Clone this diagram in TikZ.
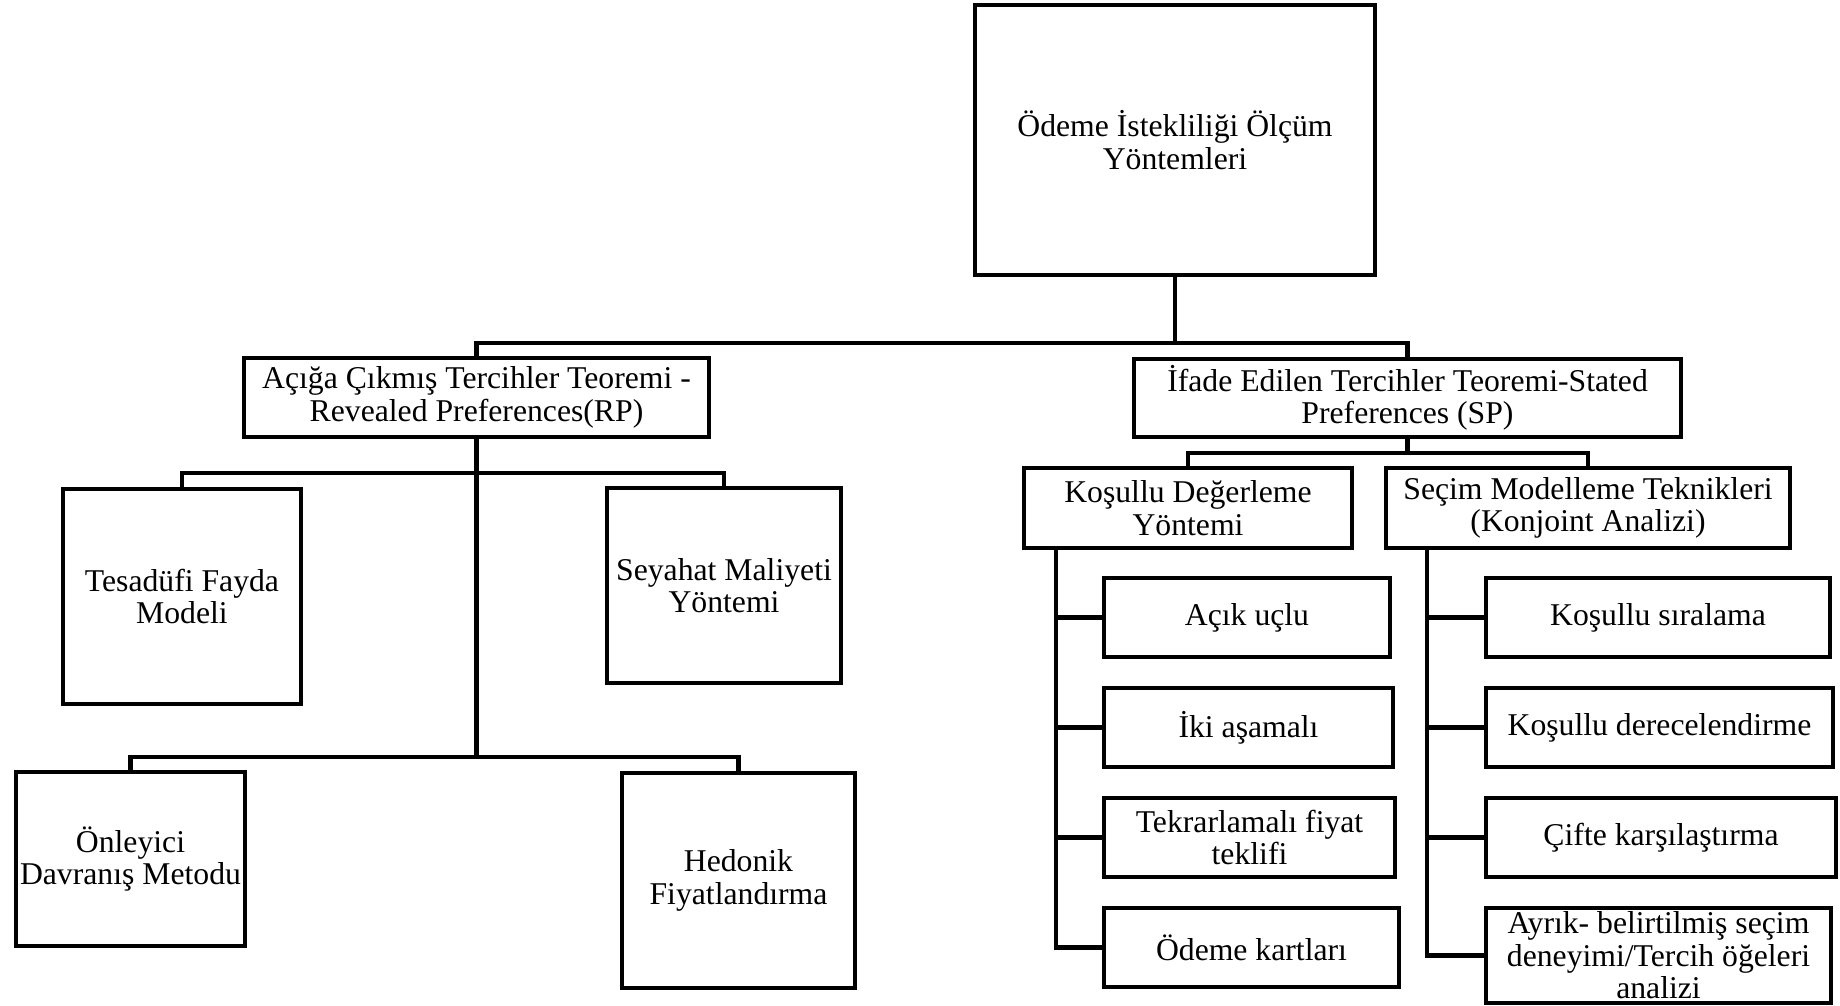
\documentclass[tikz,border=0pt]{standalone}
\usepackage{fontspec}
\setmainfont{Liberation Serif}
\begin{document}
\begin{tikzpicture}[x=1pt,y=-1pt,
  box/.style={draw, line width=4.6pt, inner sep=0pt, align=center, fill=white,
    font=\fontsize{31.7}{32.5}\selectfont},
  conn/.style={line width=4.6pt, line cap=rect, line join=miter}]
\useasboundingbox (0,0) rectangle (1840,1005);
\newcommand{\bx}[6]{\node[box, minimum width=#4pt, minimum height=#5pt] (#1) at (#2,#3) {#6};}
% boxes
\bx{top}{1175}{140}{400}{270}{Ödeme İstekliliği Ölçüm\\Yöntemleri}
\bx{rp}{476.5}{397.5}{465}{79}{Açığa Çıkmış Tercihler Teoremi -\\Revealed Preferences(RP)}
\bx{sp}{1407.5}{398}{547}{78}{İfade Edilen Tercihler Teoremi-Stated\\Preferences (SP)}
\bx{tes}{182}{596.5}{238}{215}{Tesadüfi Fayda\\Modeli}
\bx{sey}{724}{585.5}{234}{195}{Seyahat Maliyeti\\Yöntemi}
\bx{onl}{130.5}{859}{229}{174}{Önleyici\\Davranış Metodu}
\bx{hed}{738.5}{880.5}{233}{215}{Hedonik\\Fiyatlandırma}
\bx{kdy}{1188}{508}{328}{80}{Koşullu Değerleme\\Yöntemi}
\bx{smt}{1588}{508}{404}{80}{Seçim Modelleme Teknikleri\\(Konjoint Analizi)}
\bx{a1}{1247}{617.5}{286}{79}{Açık uçlu}
\bx{a2}{1248.5}{727.5}{289}{79}{İki aşamalı}
\bx{a3}{1249.5}{837.5}{291}{79}{Tekrarlamalı fiyat\\teklifi}
\bx{a4}{1251.5}{947.5}{295}{79}{Ödeme kartları}
\bx{b1}{1658}{617.5}{344}{79}{Koşullu sıralama}
\bx{b2}{1659.5}{727.5}{347}{79}{Koşullu derecelendirme}
\bx{b3}{1661}{837.5}{350}{79}{Çifte karşılaştırma}
\bx{b4}{1658.5}{955.5}{345}{95}{Ayrık- belirtilmiş seçim\\deneyimi/Tercih öğeleri\\analizi}
% bus coordinates
\coordinate (bus1) at (0,343);
\coordinate (bus2) at (0,473);
\coordinate (bus3) at (0,757);
\coordinate (bus4) at (0,453);
\coordinate (kspine) at (1056,0);
\coordinate (sspine) at (1427,0);
% connectors
\draw[conn] (top.south) -- (top.south |- bus1);
\draw[conn] (rp.north) -- (rp.north |- bus1) -- (sp.north |- bus1) -- (sp.north);
\draw[conn] (rp.south) -- (rp.south |- bus3);
\draw[conn] (tes.north) -- (tes.north |- bus2) -- (sey.north |- bus2) -- (sey.north);
\draw[conn] (onl.north) -- (onl.north |- bus3) -- (hed.north |- bus3) -- (hed.north);
\draw[conn] (sp.south) -- (sp.south |- bus4);
\draw[conn] (kdy.north) -- (kdy.north |- bus4) -- (smt.north |- bus4) -- (smt.north);
\draw[conn] (kdy.south -| kspine) -- (a4.west -| kspine) -- (a4.west);
\draw[conn] (a1.west -| kspine) -- (a1.west);
\draw[conn] (a2.west -| kspine) -- (a2.west);
\draw[conn] (a3.west -| kspine) -- (a3.west);
\draw[conn] (smt.south -| sspine) -- (b4.west -| sspine) -- (b4.west);
\draw[conn] (b1.west -| sspine) -- (b1.west);
\draw[conn] (b2.west -| sspine) -- (b2.west);
\draw[conn] (b3.west -| sspine) -- (b3.west);
\end{tikzpicture}
\end{document}
